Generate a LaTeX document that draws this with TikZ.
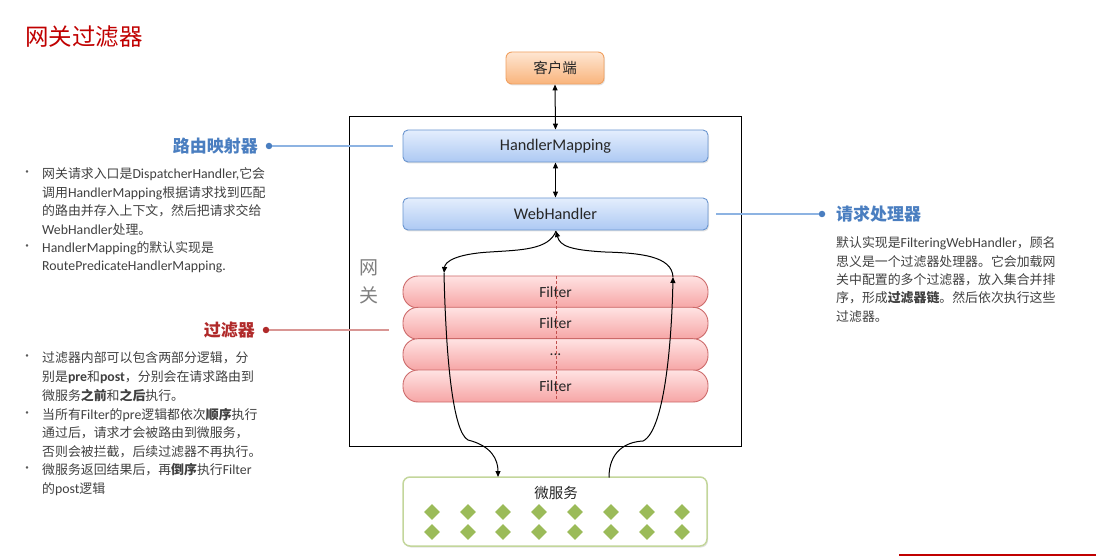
\documentclass[tikz,border=0pt]{standalone}
\usepackage{fontspec}
\setmainfont{Noto Sans CJK SC}
\newfontfamily\enfont{Carlito}[Scale=1.07]
\newcommand\enf[1]{{\enfont #1}}
\usetikzlibrary{arrows.meta,shadows,shapes.geometric}
\definecolor{titlered}{HTML}{C00000}
\definecolor{headblue}{HTML}{4A7EC0}
\definecolor{lineblue}{HTML}{8DB3E2}
\definecolor{headred}{HTML}{B02A2A}
\definecolor{linered}{HTML}{D99694}
\definecolor{bodygray}{HTML}{404040}
\definecolor{gwgray}{HTML}{7F7F7F}
\definecolor{bulgray}{HTML}{595959}
\definecolor{boxtext}{HTML}{262626}
\definecolor{bluetop}{HTML}{E4EEFD}
\definecolor{bluebot}{HTML}{ADC9F3}
\definecolor{blueline}{HTML}{6A95CF}
\definecolor{redtop}{HTML}{FFE3E3}
\definecolor{redbot}{HTML}{F6A5A5}
\definecolor{redline}{HTML}{CC6A6A}
\definecolor{orgtop}{HTML}{FEE6D2}
\definecolor{orgbot}{HTML}{F9B47C}
\definecolor{orgline}{HTML}{F0A060}
\definecolor{greenline}{HTML}{C3D69B}
\definecolor{greenfill}{HTML}{9BBB59}
\definecolor{dashred}{HTML}{C0504D}
\begin{document}
\begin{tikzpicture}[x=1pt,y=-1pt,
  boxshadow/.style={drop shadow={opacity=0.22,shadow xshift=1pt,shadow yshift=-1.5pt}},
  bluebox/.style={draw=blueline,line width=0.9pt,rounded corners=5pt,top color=bluetop,bottom color=bluebot,
    minimum width=305pt,minimum height=32pt,inner sep=0pt,text=boxtext,
    font=\enfont\fontsize{15.2}{18}\selectfont,boxshadow},
  filterbox/.style={draw=redline,line width=0.9pt,rounded corners=15pt,top color=redtop,bottom color=redbot,
    minimum width=305pt,minimum height=32pt,inner sep=0pt,text=boxtext,
    font=\enfont\fontsize{14.5}{18}\selectfont},
  orgbox/.style={draw=orgline,line width=0.9pt,rounded corners=6pt,top color=orgtop,bottom color=orgbot,
    minimum width=98pt,minimum height=32pt,inner sep=0pt,text=boxtext,
    font=\fontsize{14.5}{18}\selectfont,boxshadow},
  msbox/.style={draw=greenline,line width=1.5pt,rounded corners=7pt,fill=white,
    minimum width=304pt,minimum height=69pt,inner sep=0pt,boxshadow},
  gem/.style={diamond,fill=greenfill,minimum width=16pt,minimum height=16pt,inner sep=0pt},
  conn/.style={line width=1pt,black},
  tip/.style={-{Triangle[length=6pt,width=5pt]}},
  txt/.style={anchor=west,inner sep=0pt,text=bodygray,text height=11pt,text depth=2pt,
    font=\fontsize{12.9}{18}\selectfont},
  bul/.style={anchor=center,inner sep=0pt,text=bulgray,font=\fontsize{12}{12}\selectfont},
  headtxt/.style={anchor=east,inner sep=0pt,font=\bfseries\fontsize{17}{20}\selectfont},
  hdot/.style={circle,inner sep=0pt,minimum size=6.5pt}
]
\useasboundingbox (0,0) rectangle (1096,556);

% title
\node[anchor=west,inner sep=0pt,text=titlered,font=\fontsize{23.5}{26}\selectfont] (title) at (25,37) {网关过滤器};

% gateway frame
\node[draw,line width=1pt,minimum width=392pt,minimum height=329pt,inner sep=0pt] (gw) at (545,281.5) {};
\node[inner sep=0pt,text=gwgray,font=\fontsize{19}{20}\selectfont] (gw1) at (369,268) {网};
\node[inner sep=0pt,text=gwgray,font=\fontsize{19}{20}\selectfont] (gw2) at (369,295) {关};

% boxes
\node[orgbox] (client) at (555,68) {客户端};
\node[bluebox] (hm) at (555.5,146) {HandlerMapping};
\node[bluebox] (wh) at (555.5,214) {WebHandler};

\node[filterbox] (f1) at (555.5,292) {Filter};
\node[filterbox] (f2) at (555.5,323.3) {Filter};
\node[filterbox] (f3) at (555.5,354.7) {...};
\node[filterbox] (f4) at (555.5,386) {Filter};
\coordinate (dtop) at (556,276);
\coordinate (dbot) at (556,400);
\draw[dashred,line width=0.9pt,dash pattern=on 3pt off 2pt] (dtop) -- (dbot);

\node[msbox] (ms) at (555,511.5) {};
\node[inner sep=0pt,text=boxtext,font=\fontsize{14.5}{18}\selectfont] (mslabel) at (556,493) {微服务};
\foreach \i/\x in {1/432,2/468,3/503,4/539,5/575,6/611,7/647,8/682}{
  \node[gem] (ga\i) at (\x,512) {};
  \node[gem] (gb\i) at (\x,532) {};
}

% vertical arrows
\draw[conn,{Triangle[length=6pt,width=5pt]}-{Triangle[length=6pt,width=5pt]}] (client.south) -- (hm.north);
\draw[conn,{Triangle[length=6pt,width=5pt]}-{Triangle[length=6pt,width=5pt]}] (hm.south) -- (wh.north);

% filter chain curves
\coordinate (L1) at (444,273);
\coordinate (R1) at (673,277);
\coordinate (msin) at (498,477);
\coordinate (msout) at (609,477.5);
\coordinate (whb) at (556,231);
\draw[conn,tip] (whb) .. controls (549,250) and (520,250) .. (490,252)
  .. controls (455,254) and (445,262) .. (L1);
\draw[conn,tip] (L1) .. controls (446,360) and (453,432) .. (468,440)
  .. controls (492,446) and (498,460) .. (msin);
\draw[conn,tip] (msout) .. controls (609,452) and (625,442) .. (643,441)
  .. controls (666,430) and (672,330) .. (R1);
\draw[conn,tip] (R1) .. controls (672,256) and (640,253) .. (605,252)
  .. controls (570,250) and (560,246) .. (whb);

% left heading 1
\node[headtxt,text=headblue] (h1) at (258,146) {路由映射器};
\node[hdot,fill=headblue] (dot1) at (269,146) {};
\coordinate (e1) at (393,146);
\draw[lineblue,line width=1.2pt] (dot1) -- (e1);

\node[bul] (b11) at (27,174) {•};
\node[txt] (t11) at (42,174) {网关请求入口是\enf{DispatcherHandler,}它会};
\node[txt] (t12) at (42,193) {调用\enf{HandlerMapping}根据请求找到匹配};
\node[txt] (t13) at (42,211) {的路由并存入上下文，然后把请求交给};
\node[txt] (t14) at (42,230) {\enf{WebHandler}处理。};
\node[bul] (b12) at (27,248) {•};
\node[txt] (t15) at (42,248) {\enf{HandlerMapping}的默认实现是};
\node[txt] (t16) at (42,266) {\enf{RoutePredicateHandlerMapping.}};

% left heading 2
\node[headtxt,text=headred] (h2) at (255,330) {过滤器};
\node[hdot,fill=headred] (dot2) at (266,330) {};
\coordinate (e2) at (389,330);
\draw[linered,line width=1.2pt] (dot2) -- (e2);

\node[bul] (b21) at (27,358) {•};
\node[txt] (t21) at (42,358) {过滤器内部可以包含两部分逻辑，分};
\node[txt] (t22) at (42,377) {别是\enf{\bfseries pre}和\enf{\bfseries post}，分别会在请求路由到};
\node[txt] (t23) at (42,396) {微服务\textbf{之前}和\textbf{之后}执行。};
\node[bul] (b22) at (27,415) {•};
\node[txt] (t24) at (42,415) {当所有\enf{Filter}的\enf{pre}逻辑都依次\textbf{顺序}执行};
\node[txt] (t25) at (42,433) {通过后，请求才会被路由到微服务，};
\node[txt] (t26) at (42,452) {否则会被拦截，后续过滤器不再执行。};
\node[bul] (b23) at (27,470) {•};
\node[txt] (t27) at (42,470) {微服务返回结果后，再\textbf{倒序}执行\enf{Filter}};
\node[txt] (t28) at (42,489) {的\enf{post}逻辑};

% right heading
\node[hdot,fill=headblue] (dot3) at (822,214) {};
\coordinate (e3) at (716,214);
\draw[lineblue,line width=1.2pt] (dot3) -- (e3);
\node[headtxt,anchor=west,text=headblue] (h3) at (836,214) {请求处理器};

\node[txt] (r1) at (836,243) {默认实现是\enf{FilteringWebHandler}，顾名};
\node[txt] (r2) at (836,262) {思义是一个过滤器处理器。它会加载网};
\node[txt] (r3) at (836,280) {关中配置的多个过滤器，放入集合并排};
\node[txt] (r4) at (836,298) {序，形成\textbf{过滤器链}。然后依次执行这些};
\node[txt] (r5) at (836,317) {过滤器。};

% bottom red rule
\coordinate (bl1) at (899,555);
\coordinate (bl2) at (1096,555);
\draw[titlered,line width=2pt] (bl1) -- (bl2);
\end{tikzpicture}
\end{document}
